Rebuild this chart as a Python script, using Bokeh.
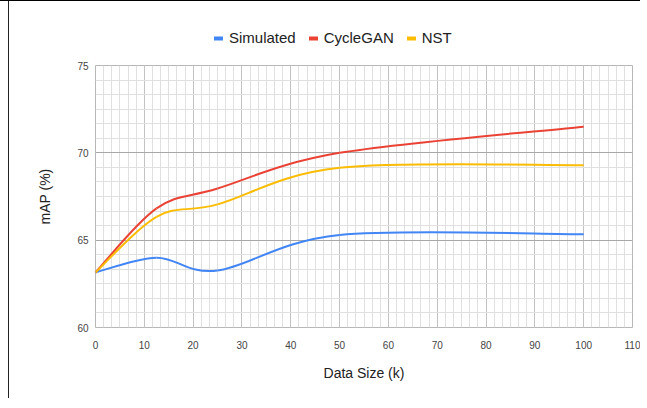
from bokeh.plotting import figure
from bokeh.layouts import column
from bokeh.models import SingleIntervalTicker, Legend, LegendItem, ColumnDataSource, Range1d
from bokeh.embed import file_html
from bokeh.resources import INLINE

# ---- data ----
data_size = [0, 12.5, 25, 50, 100]
simulated = [63.15, 64.0, 63.26, 65.3, 65.34]
cyclegan = [63.15, 66.82, 67.96, 70.0, 71.5]
nst = [63.15, 66.34, 67.05, 69.14, 69.29]

series_names = ["Simulated", "CycleGAN", "NST"]
series_values = [simulated, cyclegan, nst]
series_colors = ["#4285F4", "#EA4335", "#FBBC04"]

x_ticks_interval = 10
y_ticks_interval = 5

FONT = "Liberation Sans"


def smooth_segments(xs, ys, k=1.0 / 6.0):
    """Cubic Bezier segments (Catmull-Rom style smoothing) through the data points."""
    n = len(xs)
    seg = dict(x0=[], y0=[], x1=[], y1=[], cx0=[], cy0=[], cx1=[], cy1=[])
    for i in range(n - 1):
        xp, yp = (xs[i - 1], ys[i - 1]) if i > 0 else (xs[i], ys[i])
        xn, yn = (xs[i + 2], ys[i + 2]) if i + 2 < n else (xs[i + 1], ys[i + 1])
        seg["x0"].append(xs[i]); seg["y0"].append(ys[i])
        seg["x1"].append(xs[i + 1]); seg["y1"].append(ys[i + 1])
        seg["cx0"].append(xs[i] + (xs[i + 1] - xp) * k)
        seg["cy0"].append(ys[i] + (ys[i + 1] - yp) * k)
        seg["cx1"].append(xs[i + 1] - (xn - xs[i]) * k)
        seg["cy1"].append(ys[i + 1] - (yn - ys[i]) * k)
    return seg


# ---- legend strip (separate figure so the legend is not clipped) ----
lg = figure(width=640, height=50, output_backend="svg", toolbar_location=None,
            x_axis_type=None, y_axis_type=None, x_range=Range1d(0, 1), y_range=Range1d(0, 1),
            min_border_left=0, min_border_right=0, min_border_top=0, min_border_bottom=0)
lg.grid.visible = False
lg.outline_line_color = None
lg.background_fill_alpha = 0
lg.border_fill_alpha = 0

# ---- main chart ----
p = figure(width=640, height=348, output_backend="svg", toolbar_location=None,
           x_range=Range1d(0, 110), y_range=Range1d(60, 75),
           min_border_left=95, min_border_right=8, min_border_top=15, min_border_bottom=71)
p.background_fill_color = "white"
p.border_fill_alpha = 0
p.outline_line_color = "#b7b7b7"

xt = SingleIntervalTicker(interval=x_ticks_interval, num_minor_ticks=6)
yt = SingleIntervalTicker(interval=y_ticks_interval, num_minor_ticks=6)
p.xaxis.ticker = xt
p.yaxis.ticker = yt
p.xgrid.ticker = xt
p.ygrid.ticker = yt

p.xgrid.grid_line_color = "#c2c2c2"
p.ygrid.grid_line_color = "#a8a8a8"
p.xgrid.minor_grid_line_color = "#e0e0e0"
p.ygrid.minor_grid_line_color = "#e0e0e0"

for ax in (p.xaxis, p.yaxis):
    ax.axis_line_color = None
    ax.major_tick_line_color = None
    ax.minor_tick_line_color = None
    ax.major_label_text_font = FONT
    ax.major_label_text_font_size = "10px"
    ax.major_label_text_color = "#444444"
    ax.axis_label_text_font = FONT
    ax.axis_label_text_font_size = "14px"
    ax.axis_label_text_font_style = "normal"
    ax.axis_label_text_color = "#222222"

p.xaxis.axis_label = "Data Size (k)"
p.yaxis.axis_label = "mAP (%)"
p.xaxis.major_label_standoff = 7
p.yaxis.major_label_standoff = 1
p.xaxis.axis_label_standoff = 13
p.yaxis.axis_label_standoff = 21

items = []
for name, vals, col in zip(series_names, series_values, series_colors):
    src = ColumnDataSource(smooth_segments(data_size, vals))
    p.bezier(x0="x0", y0="y0", x1="x1", y1="y1", cx0="cx0", cy0="cy0", cx1="cx1", cy1="cy1",
             source=src, line_color=col, line_width=2)
    # legend sample renderer: same data, falls outside the strip's 0..1 range so only the swatch shows
    dummy = lg.line(x=data_size, y=vals, line_color=col, line_width=4, line_cap="round")
    items.append(LegendItem(label=name, renderers=[dummy]))

legend = Legend(items=items, orientation="horizontal", location=(119, 4),
                glyph_width=9, glyph_height=16, label_standoff=6, spacing=13,
                padding=0, margin=0, border_line_color=None, background_fill_alpha=0,
                label_text_font=FONT, label_text_font_size="15px", label_text_color="#222222",
                label_height=16)
lg.add_layout(legend, "center")

layout = column(lg, p, spacing=0)
layout.styles = {"overflow": "hidden",
                 "background": "linear-gradient(#000,#000) 0 0/100% 1px no-repeat, "
                               "linear-gradient(#222,#222) 8px 0/1px 100% no-repeat, white"}

with open("out.html", "w") as f:
    f.write(file_html(layout, INLINE))
